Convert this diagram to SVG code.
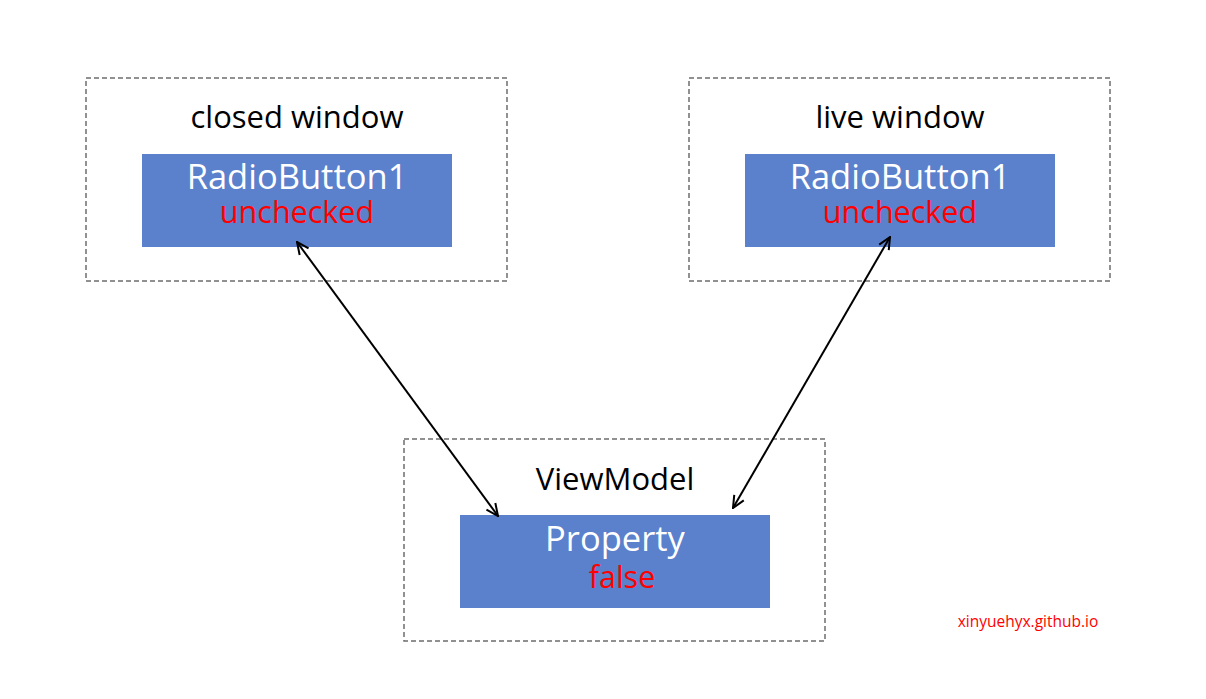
<svg xmlns="http://www.w3.org/2000/svg" width="1206" height="699" viewBox="0 0 1206 699">
<defs>
<style>
.frame{fill:none;stroke:#6e6e6e;stroke-width:1.5;stroke-dasharray:5 3}
.blue{fill:#5b80cc}
.t{font-family:"Open Sans","Noto Sans","Liberation Sans",sans-serif;text-anchor:middle}
.title{font-size:31px;fill:#000}
.name{font-size:34.5px;fill:#fff}
.val{font-size:30.5px;fill:#ff0000}
.conn{fill:none;stroke:#000;stroke-width:2}
</style>
<marker id="ah" viewBox="0 0 14 14" refX="13" refY="7" markerWidth="14" markerHeight="14" markerUnits="userSpaceOnUse" orient="auto-start-reverse">
<path d="M1,1.5 L13,7 L1,12.5" fill="none" stroke="#000" stroke-width="2"/>
</marker>
</defs>
<rect width="1206" height="699" fill="#fff"/>
<g id="closed-window">
<rect class="frame" x="86" y="78" width="421" height="203"/>
<text class="t title" x="297" y="128">closed window</text>
<rect class="blue" x="142" y="154" width="310" height="93"/>
<text class="t name" x="297" y="189">RadioButton1</text>
<text class="t val" x="297" y="223">unchecked</text>
</g>
<g id="live-window">
<rect class="frame" x="689" y="78" width="421" height="203"/>
<text class="t title" x="900" y="128">live window</text>
<rect class="blue" x="745" y="154" width="310" height="93"/>
<text class="t name" x="900" y="189">RadioButton1</text>
<text class="t val" x="900" y="223">unchecked</text>
</g>
<g id="viewmodel">
<rect class="frame" x="404" y="439" width="421" height="202"/>
<text class="t title" x="615" y="490">ViewModel</text>
<rect class="blue" x="460" y="515" width="310" height="93"/>
<text class="t name" x="615" y="551">Property</text>
<text class="t val" x="622" y="588">false</text>
</g>
<g id="connectors">
<line class="conn" x1="297" y1="242" x2="498" y2="516" marker-start="url(#ah)" marker-end="url(#ah)"/>
<line class="conn" x1="890" y1="237" x2="733" y2="508" marker-start="url(#ah)" marker-end="url(#ah)"/>
</g>
<text class="t" x="1028" y="627" font-size="15.5" fill="#ff0000">xinyuehyx.github.io</text>
</svg>
